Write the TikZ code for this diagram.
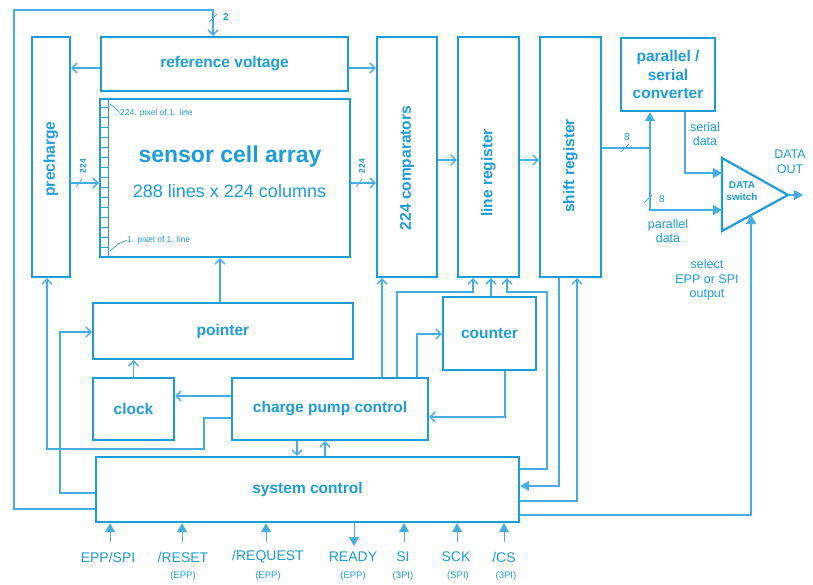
\documentclass[tikz,border=0pt]{standalone}
\usepackage{fontspec}
\setmainfont{Liberation Sans}
\usetikzlibrary{arrows.meta,calc}
\definecolor{bl}{RGB}{28,156,216}
\definecolor{bll}{RGB}{70,172,226}
\begin{document}
\begin{tikzpicture}[x=1pt,y=-1pt,
 box/.style={draw=bl, line width=2.4pt, inner sep=0pt, text=bl, font=\bfseries\fontsize{15.5}{18.5}\selectfont, align=center},
 btxt/.style={text=bl, inner sep=0pt, font=\bfseries\fontsize{15.5}{18.5}\selectfont},
 conn/.style={draw=bll, line width=1.1pt},
 oa/.style={-{Straight Barb[length=5pt,width=10pt,line width=1.3pt]}},
 fa/.style={-{Triangle[length=9pt,width=10pt]}},
 lbl/.style={text=bl, inner sep=0pt},
 sm/.style={lbl, font=\fontsize{12.5}{14.5}\selectfont, align=center},
 inl/.style={lbl, font=\fontsize{14}{16}\selectfont},
 sub/.style={lbl, font=\fontsize{9.5}{11}\selectfont},
 bus/.style={draw=bll, line width=0.8pt},
]
\useasboundingbox (0,0) rectangle (813,584);

% boxes
\node[box, minimum width=38pt, minimum height=240pt] (pre) at (51,157) {};
\node[btxt, rotate=90] (pret) at (51,159) {precharge};
\node[box, minimum width=247pt, minimum height=54pt] (ref) at (224.5,64) {reference voltage};
\node[box, minimum width=250pt, minimum height=158pt] (arr) at (225,178) {};
\node[box, minimum width=60pt, minimum height=240pt] (cmp) at (407,157) {};
\node[btxt, rotate=90] (cmpt) at (407,168) {224 comparators};
\node[box, minimum width=61pt, minimum height=240pt] (lreg) at (488.5,157) {};
\node[btxt, rotate=90] (lregt) at (488.5,173) {line register};
\node[box, minimum width=61pt, minimum height=240pt] (sreg) at (570.5,157) {};
\node[btxt, rotate=90] (sregt) at (570.5,166) {shift register};
\node[box, minimum width=94pt, minimum height=73pt] (psc) at (668,74.5) {parallel /\\serial\\converter};
\node[box, minimum width=260pt, minimum height=56pt] (ptr) at (223,331) {pointer};
\node[box, minimum width=81pt, minimum height=62pt] (clk) at (133.5,409) {clock};
\node[box, minimum width=196pt, minimum height=62pt] (cpc) at (330,409) {charge pump control};
\node[box, minimum width=423pt, minimum height=65pt] (sys) at (307.5,489.5) {system control};
\node[box, minimum width=93pt, minimum height=73pt] (cnt) at (489.5,333.5) {counter};

% sensor array contents
\node[lbl, font=\bfseries\fontsize{23}{26}\selectfont] (sca) at (230,157) {sensor cell array};
\node[lbl, font=\fontsize{18}{21}\selectfont] (dim) at (229.5,191) {288 lines x 224 columns};
\draw[bl, line width=0.9pt] (108,99) -- (108,257);
\foreach \yy in {107,117,...,250} \draw[bl, line width=0.8pt] (100,\yy) -- (108,\yy);
\node[lbl, anchor=west, font=\fontsize{8.5}{10}\selectfont] (pxa) at (120,113) {224. pixel of 1. line};
\node[lbl, anchor=west, font=\fontsize{8.5}{10}\selectfont] (pxb) at (127,240) {1. pixel of 1. line};
\draw[bl, line width=0.6pt] (110,104) -- (114,107) -- (pxa.west);
\draw[bl, line width=0.6pt] (110,251) -- (118,244) -- (pxb.west);

% DATA switch
\coordinate (swa) at (722,158);
\coordinate (swb) at (722,231);
\coordinate (swo) at (788,195);
\draw[bl, line width=2.2pt, line join=miter] (swa) -- (swo) -- (swb) -- cycle;
\node[lbl, font=\bfseries\fontsize{10}{11.5}\selectfont, align=center] (swt) at (742,191) {DATA\\switch};
\coordinate (swi1) at (722,173);
\coordinate (swi2) at (722,210);
\coordinate (sws) at (751,215);
\coordinate (out) at (803,195);
\node[sm] (dout) at (790,162) {DATA\\OUT};
\draw[conn, fa] (swo) -- (out);

% top loop
\draw[conn, oa] (sys.west |- 0,509) -- (14,509) -- (14,10) -- (213,10) -- (ref.north -| 213,0);
\draw[bus] (209,22) -- (217,14);
\node[lbl, font=\bfseries\fontsize{10}{12}\selectfont] (two) at (226,17) {2};

% reference voltage
\draw[conn, oa] (ref.west |- 0,68) -- (pre.east |- 0,68);
\draw[conn, oa] (ref.east |- 0,68) -- (cmp.west |- 0,68);

% 224 buses
\draw[conn, oa] (pre.east |- 0,183) -- (arr.west |- 0,183);
\draw[bus] (76,187) -- (82,179);
\node[lbl, rotate=90, font=\bfseries\fontsize{8.5}{9}\selectfont] (n224a) at (83,166) {224};
\draw[conn, oa] (arr.east |- 0,183) -- (cmp.west |- 0,183);
\draw[bus] (356,187) -- (362,179);
\node[lbl, rotate=90, font=\bfseries\fontsize{8.5}{9}\selectfont] (n224b) at (362,166) {224};

% data path
\draw[conn, oa] (cmp.east |- 0,160) -- (lreg.west |- 0,160);
\draw[conn, oa] (lreg.east |- 0,160) -- (sreg.west |- 0,160);
\coordinate (br) at (650,148);
\draw[conn] (sreg.east |- 0,148) -- (br);
\draw[bus] (621,152) -- (629,144);
\node[lbl, font=\fontsize{10}{12}\selectfont] (n8a) at (627,137) {8};
\draw[conn, fa] (br) -- (psc.south -| br);
\draw[conn, fa] (br) -- (br |- swi2) -- (swi2);
\draw[bus] (644,203) -- (652,195);
\node[lbl, font=\fontsize{10}{12}\selectfont] (n8b) at (662,199) {8};
\node[sm] (pdat) at (668,231) {parallel\\data};
\draw[conn, fa] (psc.south -| 685,0) -- (685,173) -- (swi1);
\node[sm] (sdat) at (705,134) {serial\\data};
\draw[conn, fa] (sys.east |- 0,515) -- (751,515) -- (sws);
\node[sm] (sel) at (707,280) {select\\EPP or SPI\\output};

% left side control lines
\draw[conn, oa] (cpc.west |- 0,418) -- (204,418) -- (204,449) -- (47,449) -- (pre.south -| 47,0);
\draw[conn, oa] (sys.west |- 0,493) -- (60,493) -- (60,332) -- (ptr.west |- 0,332);
\draw[conn, oa] (clk.north) -- (ptr.south -| clk.north);
\draw[conn, oa] (cpc.west |- 0,396) -- (clk.east |- 0,396);
\draw[conn, oa] (ptr.north -| 220,0) -- (arr.south -| 220,0);

% charge pump control to the right
\draw[conn, oa] (cpc.north -| 382,0) -- (cmp.south -| 382,0);
\draw[conn, oa] (cpc.north -| 397,0) -- (397,292) -- (473,292) -- (lreg.south -| 473,0);
\draw[conn, oa] (cpc.north -| 417,0) -- (417,334) -- (cnt.west |- 0,334);
\draw[conn, oa] (cnt.north -| 491,0) -- (lreg.south -| 491,0);
\draw[conn, oa] (sys.east |- 0,469) -- (547,469) -- (547,292) -- (507,292) -- (lreg.south -| 507,0);
\draw[conn, fa] (sreg.south -| 559,0) -- (559,486) -- (sys.east |- 0,486);
\draw[conn, oa] (sys.east |- 0,501) -- (577,501) -- (sreg.south -| 577,0);
\draw[conn, oa] (cnt.south -| 505,0) -- (505,417) -- (cpc.east |- 0,417);
\draw[conn, oa] (cpc.south -| 297,0) -- (sys.north -| 297,0);
\draw[conn, oa] (sys.north -| 325,0) -- (cpc.south -| 325,0);

% bottom signals
\node[inl] (i1) at (108,557) {EPP/SPI};
\node[inl] (i2) at (183,557) {/RESET};
\node[sub] (s2) at (183,576) {(EPP)};
\node[inl] (i3) at (268,557) {/REQUEST};
\node[sub] (s3) at (268,576) {(EPP)};
\node[inl] (i4) at (353,557) {READY};
\node[sub] (s4) at (353,576) {(EPP)};
\node[inl] (i5) at (403,557) {SI};
\node[sub] (s5) at (403,576) {(3PI)};
\node[inl] (i6) at (456,557) {SCK};
\node[sub] (s6) at (458,576) {(SPI)};
\node[inl] (i7) at (504,557) {/CS};
\node[sub] (s7) at (506,576) {(3PI)};
\draw[conn, line width=0.6pt, fa] (110,542) -- (sys.south -| 110,0);
\draw[conn, line width=0.6pt, fa] (182,542) -- (sys.south -| 182,0);
\draw[conn, line width=0.6pt, fa] (266,542) -- (sys.south -| 266,0);
\draw[conn, line width=0.6pt, fa] (sys.south -| 354,0) -- (354,546);
\draw[conn, line width=0.6pt, fa] (404,542) -- (sys.south -| 404,0);
\draw[conn, line width=0.6pt, fa] (457,542) -- (sys.south -| 457,0);
\draw[conn, line width=0.6pt, fa] (504,542) -- (sys.south -| 504,0);
\end{tikzpicture}
\end{document}
